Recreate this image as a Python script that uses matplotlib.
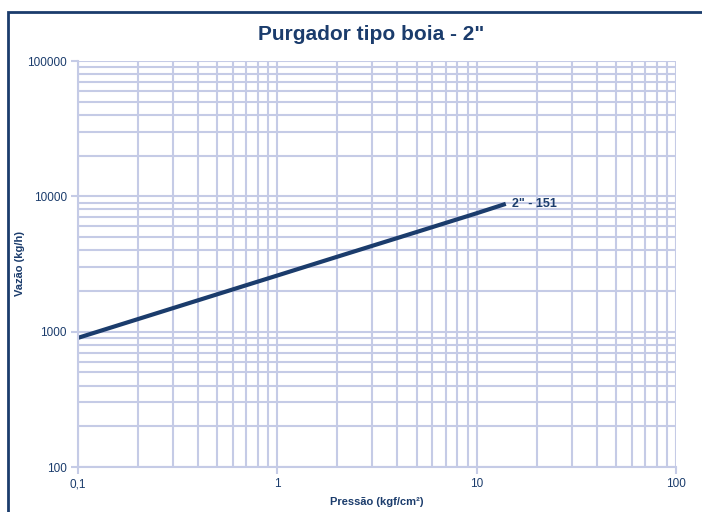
import numpy as np
import matplotlib
matplotlib.use("Agg")
import matplotlib.pyplot as plt
from matplotlib.patches import Rectangle
from matplotlib.ticker import FixedLocator, FixedFormatter, LogLocator, NullFormatter

# data
pressao = [0.1, 0.5, 1, 2, 5, 10, 14]
vazao = [900, 1890, 2600, 3580, 5450, 7500, 8800]
serie = '2" - 151'

x_ticks = [0.1, 1, 10, 100]
x_labels = ["0,1", "1", "10", "100"]
y_ticks = [100, 1000, 10000, 100000]
y_labels = ["100", "1000", "10000", "100000"]

navy = "#1b3c6c"
grid_c = "#c5cbe6"

plt.rcParams['font.family'] = ['Liberation Sans', 'DejaVu Sans']

fig = plt.figure(figsize=(7.02, 5.12), dpi=100)
ax = fig.add_axes([78/702, 1-467/512, (676-78)/702, (467-61)/512])

ax.plot(pressao, vazao, color=navy, lw=3, solid_capstyle='butt')
ax.set_xscale('log')
ax.set_yscale('log')
ax.set_xlim(0.1, 100)
ax.set_ylim(100, 100000)

ax.xaxis.set_major_locator(FixedLocator(x_ticks))
ax.xaxis.set_major_formatter(FixedFormatter(x_labels))
ax.yaxis.set_major_locator(FixedLocator(y_ticks))
ax.yaxis.set_major_formatter(FixedFormatter(y_labels))
ax.xaxis.set_minor_locator(LogLocator(base=10, subs=np.arange(2, 10)))
ax.yaxis.set_minor_locator(LogLocator(base=10, subs=np.arange(2, 10)))
ax.xaxis.set_minor_formatter(NullFormatter())
ax.yaxis.set_minor_formatter(NullFormatter())

ax.grid(True, which='both', color=grid_c, lw=1.5)
ax.set_axisbelow(True)
for s in ['top', 'right']:
    ax.spines[s].set_visible(False)
for s in ['left', 'bottom']:
    ax.spines[s].set_color(grid_c)
    ax.spines[s].set_linewidth(1.5)
ax.tick_params(which='major', length=5, width=1.5, color=grid_c, labelcolor=navy, labelsize=8.5, pad=3)
ax.tick_params(which='minor', length=0)

ax.text(pressao[-1] * 1.07, vazao[-1], serie, color=navy, fontsize=9, fontweight='bold', va='center', ha='left')

fig.text(377/702, 1-502/512, "Pressão (kgf/cm²)", color=navy, fontsize=8, fontweight='bold',
         ha='center', va='center')
fig.text(20/702, 1-264/512, "Vazão (kg/h)", color=navy, fontsize=8, fontweight='bold',
         rotation=90, ha='center', va='center')

fig.text(371/702, 1-35/512, 'Purgador tipo boia - 2"', color=navy, fontsize=15, fontweight='bold', ha='center', va='center')

fig.patches.append(Rectangle((8/702, -0.1), 1.1, 1-12/512+0.1, transform=fig.transFigure,
                             fill=False, edgecolor=navy, lw=2, clip_on=False))

fig.savefig("out.png", dpi=100)
